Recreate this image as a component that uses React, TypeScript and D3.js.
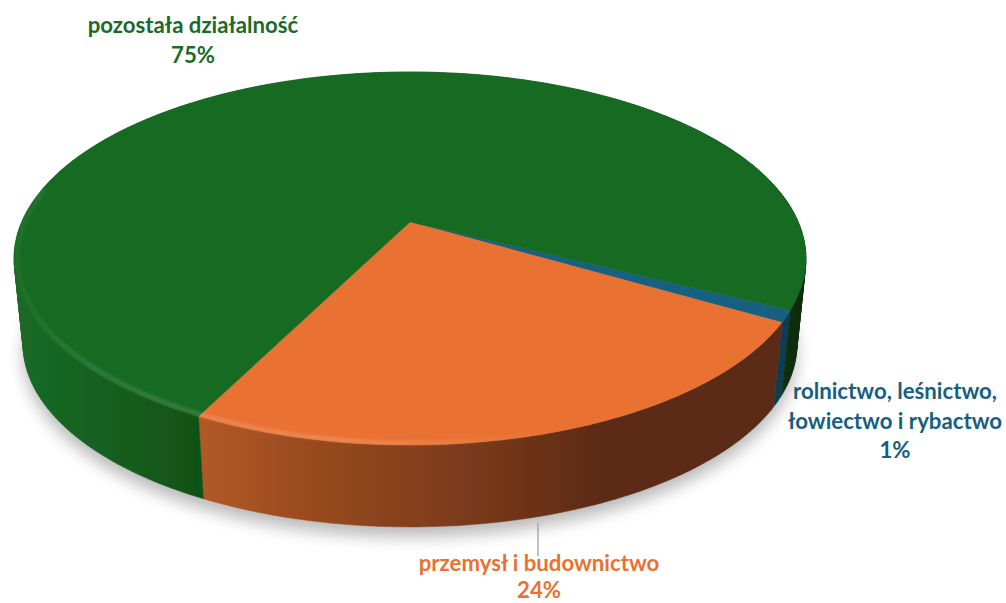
import React, { useMemo } from "react";
import * as d3 from "d3";

// Sector shares, in the clockwise order in which they are laid out on the disc.
const sectors = ["rolnictwo", "przemysl", "pozostala"];
const shares = [1, 24, 75];
const topColors = ["#156082", "#E97132", "#196B24"];
const labelLines = [
  ["rolnictwo, leśnictwo,", "łowiectwo i rybactwo", "1%"],
  ["przemysł i budownictwo", "24%"],
  ["pozostała działalność", "75%"],
];
const labelAnchors = [
  [895, 399],
  [539, 571],
  [193, 33],
];
const labelLeading = [29.5, 26.5, 29.5];

// Side-wall shading, left to right across the disc: [offset, colour].
const wallStops: [number, string][][] = [
  [[0, "#12475F"], [1, "#103C52"]],
  [[0, "#B25A26"], [0.2, "#98491F"], [0.42, "#7F3D1C"], [0.7, "#5C2A13"], [1, "#5A2B14"]],
  [[0, "#1A6B28"], [0.23, "#115318"], [0.95, "#0A3510"], [1, "#082A0C"]],
];

const W = 1006;
const H = 603;
const CX = 410;
const CY = 222;
const SCALE_X = 388.3;
const SCALE_Y = 179.4;
const PERSPECTIVE = 0.1957;
const FIRST_ANGLE = (116.7 * Math.PI) / 180;

type Pt = [number, number];

// Projects a point of the unit disc; lift 0 is the top face, lift 1 the bottom edge.
function project(angle: number, radius: number, lift: number): Pt {
  const X = radius * Math.sin(angle);
  const Y = -radius * Math.cos(angle);
  const w = 1 - PERSPECTIVE * Y;
  const shrink = 1 - 0.023 * lift;
  return [CX + (shrink * SCALE_X * X) / w, CY + 87 * lift + (shrink * SCALE_Y * Y) / w];
}

function sampleAngles(a0: number, a1: number): number[] {
  const n = Math.max(4, Math.ceil((a1 - a0) * 60));
  return d3.range(n + 1).map((i) => a0 + ((a1 - a0) * i) / n);
}

// The wall as consistently wound quads, so the silhouette follows the tangent
// between the top and bottom rims.
function wallPath(a0: number, a1: number): string {
  const line = d3.line();
  return d3
    .pairs(sampleAngles(a0, a1))
    .map(([p, q]) => {
      const quad: Pt[] = [project(p, 1, 0), project(q, 1, 0), project(q, 1, 1), project(p, 1, 1)];
      if (d3.polygonArea(quad) < 0) quad.reverse();
      return line(quad) + "Z";
    })
    .join("");
}

export default function App() {
  const slices = useMemo(
    () =>
      d3
        .pie<number>()
        .sort(null)
        .startAngle(FIRST_ANGLE)
        .endAngle(FIRST_ANGLE + 2 * Math.PI)(shares),
    []
  );
  const line = d3.line();

  const wallRange = (i: number): [number, number] => {
    if (i === 1) {
      return [project(slices[1].endAngle, 1, 0)[0], project(slices[1].startAngle, 1, 0)[0]];
    }
    return [CX - 397, CX + 396];
  };

  const fullTurn = sampleAngles(0, 2 * Math.PI);
  const shadowPath = line(fullTurn.map((a) => project(a, 1, 1))) + "Z";

  return (
    <svg
      width={W}
      height={H}
      viewBox={`0 0 ${W} ${H}`}
      style={{ position: "absolute", left: 0, top: 0, display: "block", background: "#fff" }}
    >
      <defs>
        <filter id="dropShadow" x="-10%" y="-10%" width="120%" height="125%">
          <feGaussianBlur stdDeviation="8" />
        </filter>
        <filter id="rimBlur" x="-5%" y="-5%" width="110%" height="110%">
          <feGaussianBlur stdDeviation="1.6" />
        </filter>
        <filter id="edgeSoft" x="-5%" y="-5%" width="110%" height="110%">
          <feGaussianBlur stdDeviation="0.7" />
        </filter>
        {wallStops.map((stops, i) => {
          const [x1, x2] = wallRange(i);
          return (
            <linearGradient key={i} id={`wall-${i}`} gradientUnits="userSpaceOnUse" x1={x1} x2={x2} y1={0} y2={0}>
              {stops.map(([o, c]) => (
                <stop key={o} offset={o} stopColor={c} />
              ))}
            </linearGradient>
          );
        })}
        <linearGradient id="rimLight" gradientUnits="userSpaceOnUse" x1={CX - 397} x2={CX + 150} y1={0} y2={0}>
          <stop offset={0} stopColor="#fff" stopOpacity={0.05} />
          <stop offset={0.15} stopColor="#fff" stopOpacity={0.12} />
          <stop offset={0.6} stopColor="#fff" stopOpacity={0.18} />
          <stop offset={1} stopColor="#fff" stopOpacity={0} />
        </linearGradient>
      </defs>

      <path d={shadowPath} transform="translate(0,10)" fill="#000" opacity={0.27} filter="url(#dropShadow)" />

      <g filter="url(#edgeSoft)">
        {slices.map((s, i) => (
          <path
            key={sectors[i]}
            d={wallPath(s.startAngle, s.endAngle)}
            fill={`url(#wall-${i})`}
            stroke={`url(#wall-${i})`}
            strokeWidth={0.5}
          />
        ))}
        {slices.map((s, i) => {
          const arc = sampleAngles(s.startAngle, s.endAngle);
          const face = [project(0, 0, 0), ...arc.map((a) => project(a, 1, 0))];
          return (
            <path
              key={sectors[i]}
              d={line(face) + "Z"}
              fill={topColors[i]}
              stroke={topColors[i]}
              strokeWidth={0.4}
            />
          );
        })}
      </g>

      {/* Soft highlight along the bevelled front edge of the top face */}
      <path
        d={line(sampleAngles(Math.PI * 0.62, Math.PI * 1.56).map((a) => project(a, 0.992, 0))) ?? ""}
        fill="none"
        stroke="url(#rimLight)"
        strokeWidth={4}
        filter="url(#rimBlur)"
      />

      <line x1={538} x2={538} y1={523} y2={556} stroke="#A6A6A6" strokeWidth={1.4} />

      {slices.map((s, i) => (
        <text
          key={sectors[i]}
          x={labelAnchors[i][0]}
          y={labelAnchors[i][1]}
          textAnchor="middle"
          fontFamily="Lato, 'Open Sans', sans-serif"
          fontWeight={700}
          fontSize={22.2}
          fill={i === 2 ? "#1A6B28" : topColors[i]}
        >
          {labelLines[i].map((t, j) => (
            <tspan key={j} x={labelAnchors[i][0]} dy={j === 0 ? 0 : labelLeading[i]}>
              {t}
            </tspan>
          ))}
        </text>
      ))}
    </svg>
  );
}
